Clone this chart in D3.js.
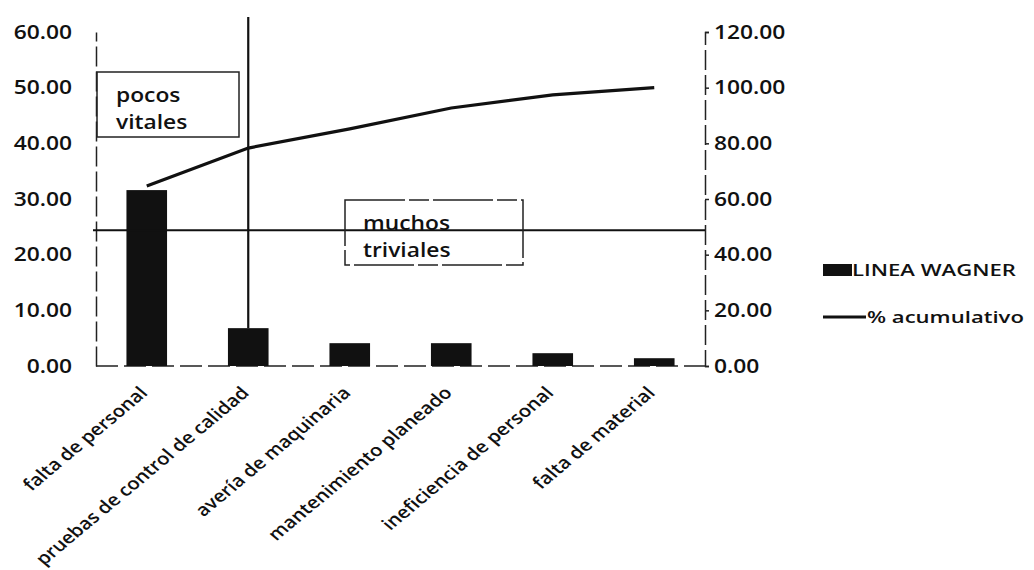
<!DOCTYPE html>
<html>
<head>
<meta charset="utf-8">
<script src="https://cdn.jsdelivr.net/npm/d3@7"></script>
<style>
  body { margin: 0; background: #fff; }
  text { font-family: "Open Sans", sans-serif; font-weight: 600; fill: #111; }
</style>
</head>
<body>
<svg id="chart" width="1034" height="570"></svg>
<script>
// Data ////////////////////////////////////////////////////////////
const categories = ["falta de personal", "pruebas de control de calidad", "avería de maquinaria",
                    "mantenimiento planeado", "ineficiencia de personal", "falta de material"];
const wagner = [31.6, 6.8, 4.1, 4.1, 2.3, 1.4];          // bars, left axis
const acumulado = [64.7, 78.3, 85.2, 92.7, 97.4, 100];   // line, right axis
const leftTicks = [0, 10, 20, 30, 40, 50, 60];
const rightTicks = [0, 20, 40, 60, 80, 100, 120];
const seriesNames = ["LINEA WAGNER", "% acumulativo"];
const corte = 24.4;   // horizontal split line, left axis units
const notes = [["pocos", "vitales"], ["muchos", "triviales"]];

// Layout //////////////////////////////////////////////////////////
const plotLeft = 96, plotRight = 705, plotTop = 32, plotBottom = 366;
const sx = 1.2;   // the scan is stretched sideways, so is the text

const svg = d3.select("#chart");

const x = d3.scaleBand()
    .domain(categories)
    .range([plotLeft, plotRight])
    .paddingInner(0.6)
    .paddingOuter(0.3);

const y = d3.scaleLinear().domain([0, 60]).range([plotBottom, plotTop]);
const y2 = d3.scaleLinear().domain([0, 120]).range([plotBottom, plotTop]);

const cx = d => x(d) + x.bandwidth() / 2;

// Axes
const yAxis = svg.append("g")
    .attr("transform", "translate(" + plotLeft + ",0)")
    .call(d3.axisLeft(y).tickValues(leftTicks).tickSize(0).tickFormat(d3.format(".2f")));

const yAxis2 = svg.append("g")
    .attr("transform", "translate(" + plotRight + ",0)")
    .call(d3.axisRight(y2).tickValues(rightTicks).tickSize(4).tickSizeOuter(4).tickFormat(d3.format(".2f")));

[yAxis, yAxis2].forEach(function(g, i) {
  g.select(".domain").attr("stroke", "#222").attr("stroke-width", 1.5).attr("stroke-dasharray", "20,5");
  g.selectAll(".tick line").attr("stroke", "#222").attr("stroke-width", 1.5);
  g.selectAll(".tick text")
      .attr("font-size", 19)
      .attr("font-family", null)
      .attr("x", i == 0 ? -20 : 7.5)
      .attr("transform", "scale(" + sx + ",1)");
});

// x baseline
svg.append("line")
    .attr("x1", plotLeft).attr("x2", plotRight)
    .attr("y1", y(0)).attr("y2", y(0))
    .attr("stroke", "#222").attr("stroke-width", 1.5)
    .attr("stroke-dasharray", "22,6");

// Bars
svg.selectAll(".bar")
    .data(categories)
    .enter().append("rect")
    .attr("class", "bar")
    .attr("x", d => x(d))
    .attr("width", x.bandwidth())
    .attr("y", (d, i) => y(wagner[i]))
    .attr("height", (d, i) => y(0) - y(wagner[i]))
    .attr("fill", "#111");

// Category labels, rotated
svg.selectAll(".cat")
    .data(categories)
    .enter().append("text")
    .attr("class", "cat")
    .attr("text-anchor", "end")
    .attr("font-size", 17)
    .attr("transform", d => "translate(" + (cx(d) + 2) + "," + (plotBottom + 28) + ") scale(" + sx + ",1) rotate(-45)")
    .text(d => d);

// Split lines (vertical at 2nd category, horizontal at corte)
svg.append("line")
    .attr("x1", cx(categories[1])).attr("x2", cx(categories[1]))
    .attr("y1", 17).attr("y2", y(wagner[1]))
    .attr("stroke", "#111").attr("stroke-width", 2.2);

svg.append("line")
    .attr("x1", plotLeft - 3).attr("x2", plotRight)
    .attr("y1", y(corte)).attr("y2", y(corte))
    .attr("stroke", "#111").attr("stroke-width", 2);

// Note boxes
const boxes = [
  { x0: 97, x1: 239, y0: 72, y1: 137 },
  { x0: 345, x1: 523, y0: 200, y1: 265 }
];
boxes.forEach(function(b, i) {
  svg.append("rect")
      .attr("x", b.x0).attr("y", b.y0)
      .attr("width", b.x1 - b.x0).attr("height", b.y1 - b.y0)
      .attr("fill", "none").attr("stroke", "#222").attr("stroke-width", 1.5)
      .attr("stroke-dasharray", i == 1 ? "60,4,20,4" : null);
  notes[i].forEach(function(t, j) {
    svg.append("text")
        .attr("font-size", 19)
        .attr("font-weight", 500)
        .attr("transform", "translate(" + (b.x0 + (i == 0 ? 19 : 18)) + "," + (b.y0 + 30 + j * 27) + ") scale(" + sx + ",1)")
        .text(t);
  });
});

// Cumulative line
const line = d3.line()
    .x((d, i) => cx(categories[i]))
    .y(d => y2(d));

svg.append("path")
    .datum(acumulado)
    .attr("d", line)
    .attr("fill", "none")
    .attr("stroke", "#111")
    .attr("stroke-width", 3.2);

// Legend
const legend = svg.append("g");
legend.append("rect")
    .attr("x", 823).attr("y", 264).attr("width", 29).attr("height", 12)
    .attr("fill", "#111");
legend.append("line")
    .attr("x1", 823).attr("x2", 866).attr("y1", 317).attr("y2", 317)
    .attr("stroke", "#111").attr("stroke-width", 3);
seriesNames.forEach(function(n, i) {
  legend.append("text")
      .attr("font-size", 17)
      .attr("dy", "0.35em")
      .attr("transform", "translate(" + (i == 0 ? 852 : 867) + "," + (i == 0 ? 270 : 317) + ") scale(1.3,1)")
      .text(n);
});
</script>
</body>
</html>
